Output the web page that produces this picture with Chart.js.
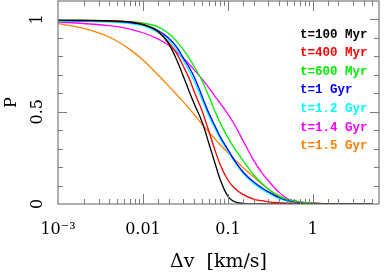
<!DOCTYPE html>
<html>
<head>
  <title>P vs dv</title>
  <script src="https://cdn.jsdelivr.net/npm/chart.js"></script>
  <style>
    body { margin:0; background:#fff; }
    #c { display:block; }
  </style>
</head>
<body>
  <canvas id="c" width="387" height="273"></canvas>
  <script>
    // velocity difference grid [km/s]
    const dv = [0.001, 0.002, 0.004, 0.007, 0.01, 0.015, 0.02, 0.025, 0.03, 0.035, 0.04, 0.05, 0.06, 0.07, 0.08,
                0.1, 0.12, 0.15, 0.2, 0.25, 0.3, 0.4, 0.5, 0.7, 1, 2, 5];
    const labels = ['t=100 Myr', 't=400 Myr', 't=600 Myr', 't=1 Gyr', 't=1.2 Gyr', 't=1.4 Gyr', 't=1.5 Gyr'];
    const colors = ['#000000', '#ff0000', '#00ee00', '#0000ff', '#00ffff', '#ff00ff', '#ff8000'];

    const p100 = [0.995, 0.995, 0.993, 0.986, 0.972, 0.935, 0.87, 0.78, 0.69, 0.61, 0.545, 0.44, 0.325, 0.225, 0.14,
                  0.042, 0.012, 0.003, 0, 0, 0, 0, 0, 0, 0, 0, 0];
    const p400 = [0.995, 0.995, 0.993, 0.987, 0.975, 0.935, 0.875, 0.815, 0.745, 0.68, 0.61, 0.50, 0.39, 0.295, 0.22,
                  0.13, 0.085, 0.052, 0.027, 0.018, 0.012, 0.007, 0.005, 0.003, 0.002, 0.0005, 0];
    const p600 = [0.995, 0.995, 0.993, 0.988, 0.98, 0.96, 0.925, 0.88, 0.835, 0.79, 0.745, 0.665, 0.58, 0.505, 0.445,
                  0.36, 0.30, 0.237, 0.16, 0.112, 0.08, 0.042, 0.025, 0.011, 0.005, 0.001, 0];
    const p1000 = [0.995, 0.993, 0.99, 0.983, 0.972, 0.94, 0.90, 0.85, 0.79, 0.74, 0.69, 0.58, 0.49, 0.425, 0.37,
                   0.295, 0.235, 0.175, 0.12, 0.088, 0.066, 0.036, 0.02, 0.008, 0.003, 0, 0];
    const p1200 = [0.99, 0.99, 0.986, 0.978, 0.966, 0.93, 0.888, 0.835, 0.775, 0.72, 0.668, 0.56, 0.475, 0.412, 0.36,
                   0.286, 0.228, 0.168, 0.112, 0.08, 0.058, 0.03, 0.016, 0.006, 0.002, 0, 0];
    const p1400 = [0.986, 0.978, 0.966, 0.948, 0.928, 0.895, 0.86, 0.822, 0.788, 0.757, 0.728, 0.675, 0.628, 0.585, 0.55,
                   0.487, 0.428, 0.345, 0.238, 0.17, 0.125, 0.063, 0.03, 0.012, 0.005, 0.001, 0];
    const p1500 = [0.977, 0.952, 0.905, 0.838, 0.78, 0.7, 0.64, 0.592, 0.552, 0.517, 0.485, 0.43, 0.388, 0.354, 0.324,
                   0.278, 0.242, 0.198, 0.148, 0.11, 0.08, 0.045, 0.025, 0.01, 0.005, 0.001, 0];
    const series = [p100, p400, p600, p1000, p1200, p1400, p1500];

    const xTickLabels = { '0.001': '10\u207B\u00B3', '0.01': '0.01', '0.1': '0.1', '1': '1' };
    const yTickLabels = [0, 0.5, 1];

    const frameColor = '#7a7a7a';
    const serif = '"DejaVu Serif", serif';

    // frame, inward ticks on all four sides, rotated y labels and the in-plot legend
    const framePlugin = {
      id: 'frame',
      afterDraw(chart) {
        const ctx = chart.ctx, a = chart.chartArea;
        const xs = chart.scales.x, ys = chart.scales.y;
        ctx.save();
        ctx.strokeStyle = frameColor;
        ctx.lineWidth = 1.2;
        ctx.strokeRect(a.left, a.top, a.right - a.left, a.bottom - a.top);
        ctx.lineWidth = 1;
        ctx.beginPath();
        xs.ticks.forEach(t => {
          const px = Math.round(xs.getPixelForValue(t.value)) + 0.5;
          if (px <= a.left + 1 || px >= a.right - 1) return;
          const major = Math.abs(Math.log10(t.value) - Math.round(Math.log10(t.value))) < 1e-6;
          const len = major ? 10 : 5;
          ctx.moveTo(px, a.bottom); ctx.lineTo(px, a.bottom - len);
          ctx.moveTo(px, a.top); ctx.lineTo(px, a.top + len);
        });
        ys.ticks.forEach(t => {
          const py = Math.round(ys.getPixelForValue(t.value)) + 0.5;
          if (py >= a.bottom - 1 || py <= a.top + 1) return;
          const major = Math.abs(t.value * 2 - Math.round(t.value * 2)) < 1e-6;
          const len = major ? 9 : 5;
          ctx.moveTo(a.left, py); ctx.lineTo(a.left + len, py);
          ctx.moveTo(a.right, py); ctx.lineTo(a.right - len, py);
        });
        ctx.stroke();

        // y tick labels, rotated to read upwards
        ctx.fillStyle = '#000';
        ctx.font = '16px ' + serif;
        ctx.textAlign = 'center';
        ctx.textBaseline = 'middle';
        yTickLabels.forEach(v => {
          ctx.save();
          ctx.translate(37.5, ys.getPixelForValue(v));
          ctx.rotate(-Math.PI / 2);
          ctx.fillText(String(v), 0, 0);
          ctx.restore();
        });

        ctx.font = 'bold 12.5px "Liberation Mono", monospace';
        ctx.textBaseline = 'middle';
        ctx.textAlign = 'left';
        chart.data.datasets.forEach((ds, i) => {
          ctx.fillStyle = ds.borderColor;
          ctx.fillText(ds.label, a.left + 242, 34.5 + i * 18.6);
        });
        ctx.restore();
      }
    };

    new Chart(document.getElementById('c'), {
      type: 'line',
      data: {
        datasets: series.map((s, i) => ({
          label: labels[i],
          data: dv.map((v, j) => ({ x: v, y: s[j] })),
          borderColor: colors[i],
          borderWidth: 1.3,
          pointRadius: 0,
          fill: false,
          cubicInterpolationMode: 'monotone'
        }))
      },
      options: {
        responsive: false,
        animation: false,
        layout: { padding: { top: 1, right: 2, left: 0, bottom: 0 } },
        plugins: { legend: { display: false }, tooltip: { enabled: false } },
        scales: {
          x: {
            type: 'logarithmic',
            min: 0.001, max: 6,
            afterFit(scale) { scale.height = 69; },
            grid: { display: false },
            border: { display: false },
            ticks: {
              autoSkip: false, maxRotation: 0, padding: 8,
              color: '#000',
              font: { family: serif, size: 16 },
              callback: v => xTickLabels[String(v)] || ''
            },
            title: {
              display: true, text: '\u0394v  [km/s]', color: '#000',
              font: { family: serif, size: 19 },
              padding: { top: 0, bottom: 0 }
            }
          },
          y: {
            min: 0, max: 1.1,
            afterFit(scale) { scale.width = 58; },
            grid: { display: false },
            border: { display: false },
            ticks: { stepSize: 0.1, display: false },
            title: {
              display: true, text: 'P', color: '#000',
              font: { family: serif, size: 16 },
              padding: { top: 2, bottom: 0 }
            }
          }
        }
      },
      plugins: [framePlugin]
    });
  </script>
</body>
</html>
